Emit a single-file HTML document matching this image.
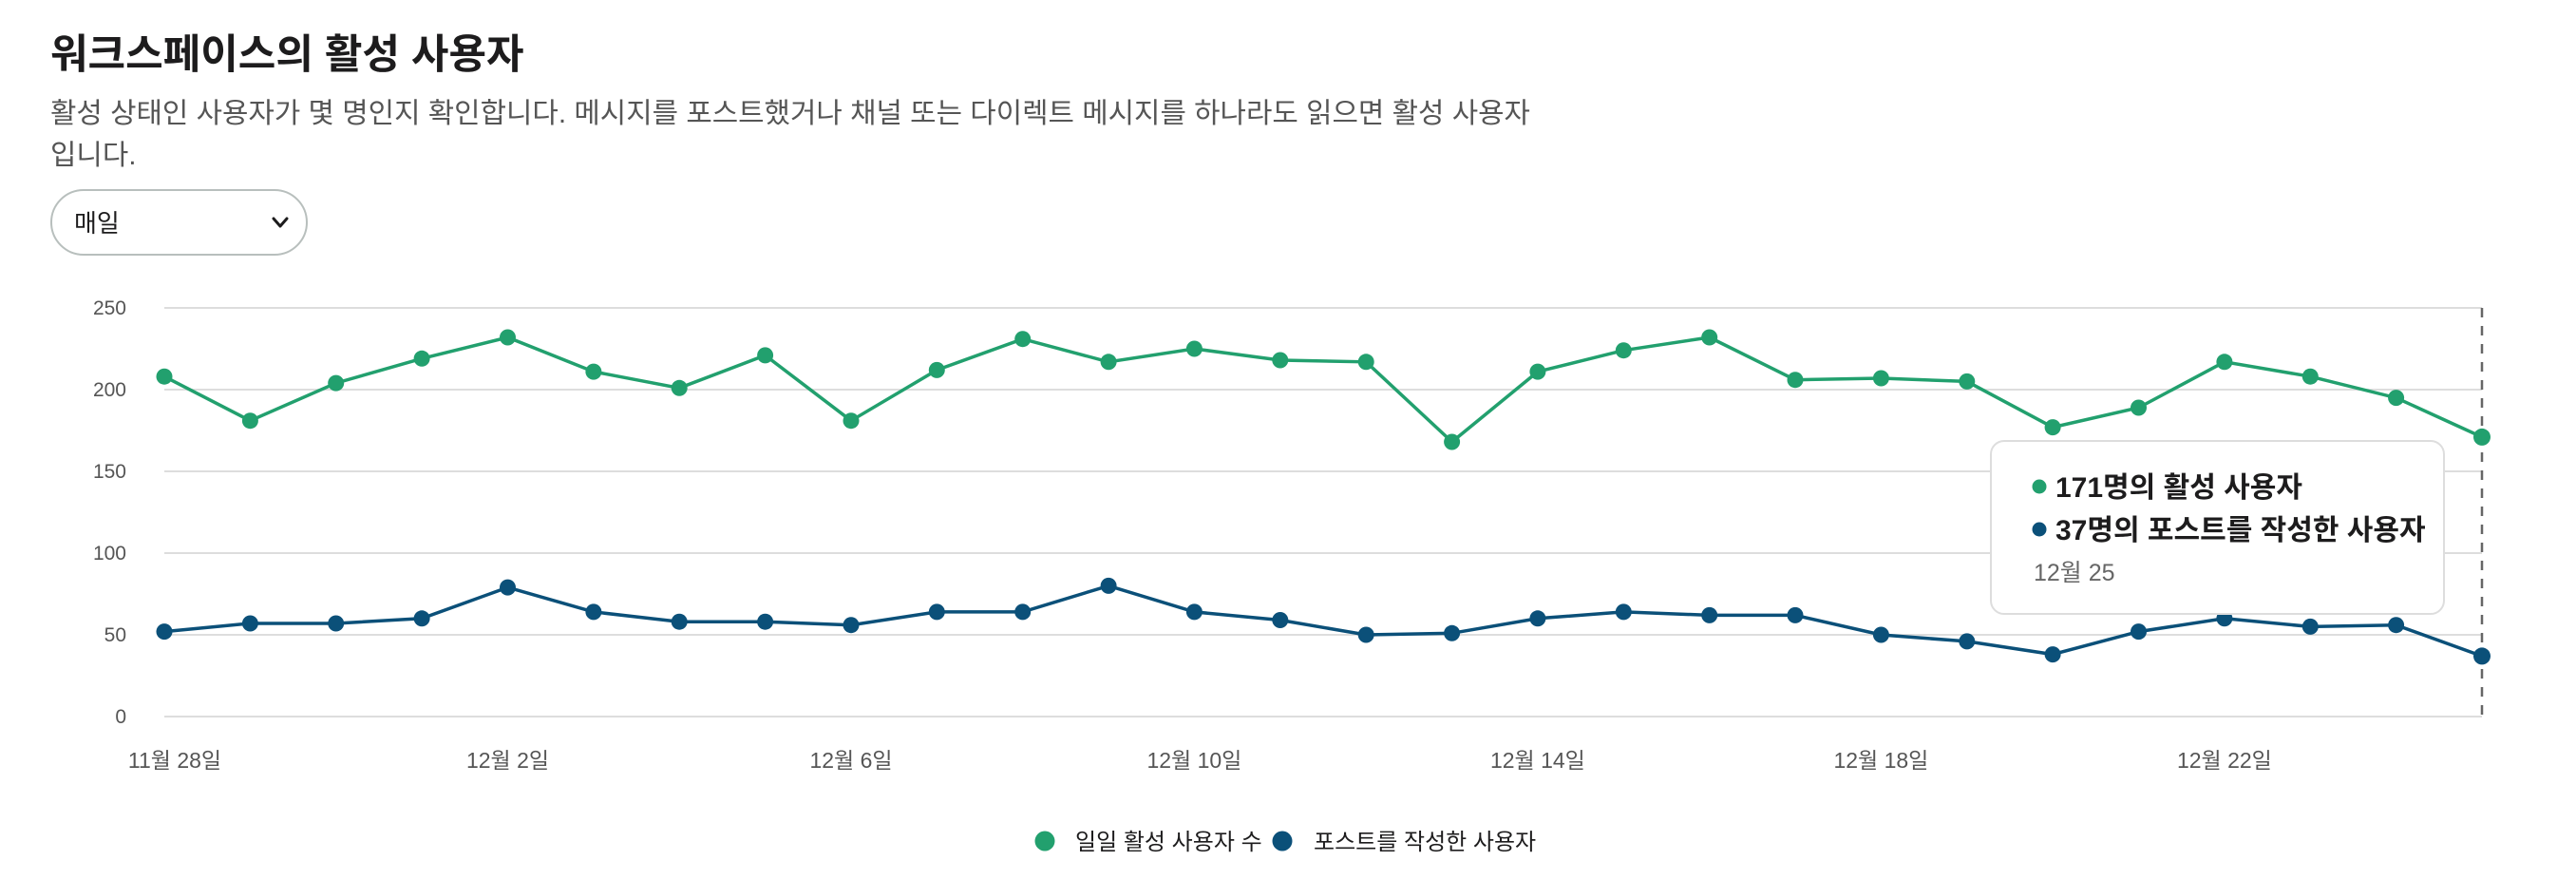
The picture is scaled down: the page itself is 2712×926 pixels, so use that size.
<!DOCTYPE html>
<html><head><meta charset="utf-8"><style>
body{margin:0;width:2712px;height:926px;background:#fff;overflow:hidden;font-family:"Liberation Sans","Noto Sans CJK KR",sans-serif;}
</style></head><body>
<svg width="2712" height="926" xmlns="http://www.w3.org/2000/svg" style="position:absolute;left:0;top:0;font-family:'Liberation Sans','Noto Sans CJK KR',sans-serif">
<text x="53" y="72" font-size="43" font-weight="bold" fill="#1d1c1d">워크스페이스의 활성 사용자</text>
<text x="53" y="129" font-size="29.8" fill="#555">활성 상태인 사용자가 몇 명인지 확인합니다. 메시지를 포스트했거나 채널 또는 다이렉트 메시지를 하나라도 읽으면 활성 사용자</text>
<text x="53" y="173" font-size="29.8" fill="#555">입니다.</text>
<rect x="54" y="200" width="269" height="68" rx="34" fill="#fff" stroke="#b8bfbd" stroke-width="2"/>
<text x="78" y="244" font-size="26" fill="#1d1c1d">매일</text>
<polyline points="288,230 295,238 302,230" fill="none" stroke="#1d1c1d" stroke-width="3" stroke-linecap="round" stroke-linejoin="round"/>
<g stroke="#dddddd" stroke-width="2">
<line x1="173" y1="324" x2="2613" y2="324"/><line x1="173" y1="410" x2="2613" y2="410"/><line x1="173" y1="496" x2="2613" y2="496"/><line x1="173" y1="582" x2="2613" y2="582"/><line x1="173" y1="668" x2="2613" y2="668"/><line x1="173" y1="754" x2="2613" y2="754"/>
</g>
<g font-size="21" fill="#555" text-anchor="end">
<text x="133" y="331">250</text><text x="133" y="417">200</text><text x="133" y="503">150</text><text x="133" y="589">100</text><text x="133" y="675">50</text><text x="133" y="761">0</text>
</g>
<g font-size="23" fill="#555" text-anchor="middle">
<text x="184" y="808">11월 28일</text><text x="534.5" y="808">12월 2일</text><text x="896" y="808">12월 6일</text><text x="1257.4" y="808">12월 10일</text><text x="1618.9" y="808">12월 14일</text><text x="1980.4" y="808">12월 18일</text><text x="2341.9" y="808">12월 22일</text>
</g>
<line x1="2613" y1="324" x2="2613" y2="754" stroke="#666" stroke-width="2.5" stroke-dasharray="10,9"/>
<polyline fill="none" stroke="#22a06e" stroke-width="3.5" points="173,396.2 263.4,442.7 353.7,403.1 444.1,377.3 534.5,355 624.9,391.1 715.2,408.3 805.6,373.9 896,442.7 986.3,389.4 1076.7,356.7 1167.1,380.8 1257.4,367 1347.8,379 1438.2,380.8 1528.6,465 1618.9,391.1 1709.3,368.7 1799.7,355 1890,399.7 1980.4,398 2070.8,401.4 2161.1,449.6 2251.5,429 2341.9,380.8 2432.3,396.2 2522.6,418.6 2613,459.9"/>
<g fill="#22a06e">
<circle cx="173" cy="396.2" r="8.5"/><circle cx="263.4" cy="442.7" r="8.5"/><circle cx="353.7" cy="403.1" r="8.5"/><circle cx="444.1" cy="377.3" r="8.5"/><circle cx="534.5" cy="355" r="8.5"/><circle cx="624.9" cy="391.1" r="8.5"/><circle cx="715.2" cy="408.3" r="8.5"/><circle cx="805.6" cy="373.9" r="8.5"/><circle cx="896" cy="442.7" r="8.5"/><circle cx="986.3" cy="389.4" r="8.5"/><circle cx="1076.7" cy="356.7" r="8.5"/><circle cx="1167.1" cy="380.8" r="8.5"/><circle cx="1257.4" cy="367" r="8.5"/><circle cx="1347.8" cy="379" r="8.5"/><circle cx="1438.2" cy="380.8" r="8.5"/><circle cx="1528.6" cy="465" r="8.5"/><circle cx="1618.9" cy="391.1" r="8.5"/><circle cx="1709.3" cy="368.7" r="8.5"/><circle cx="1799.7" cy="355" r="8.5"/><circle cx="1890" cy="399.7" r="8.5"/><circle cx="1980.4" cy="398" r="8.5"/><circle cx="2070.8" cy="401.4" r="8.5"/><circle cx="2161.1" cy="449.6" r="8.5"/><circle cx="2251.5" cy="429" r="8.5"/><circle cx="2341.9" cy="380.8" r="8.5"/><circle cx="2432.3" cy="396.2" r="8.5"/><circle cx="2522.6" cy="418.6" r="8.5"/><circle cx="2613" cy="459.9" r="9"/>
</g>
<polyline fill="none" stroke="#0b5079" stroke-width="3.5" points="173,664.6 263.4,656 353.7,656 444.1,650.8 534.5,618.1 624.9,643.9 715.2,654.2 805.6,654.2 896,657.7 986.3,643.9 1076.7,643.9 1167.1,616.4 1257.4,643.9 1347.8,652.5 1438.2,668 1528.6,666.3 1618.9,650.8 1709.3,643.9 1799.7,647.4 1890,647.4 1980.4,668 2070.8,674.9 2161.1,688.6 2251.5,664.6 2341.9,650.8 2432.3,659.4 2522.6,657.7 2613,690.4"/>
<g fill="#0b5079">
<circle cx="173" cy="664.6" r="8.5"/><circle cx="263.4" cy="656" r="8.5"/><circle cx="353.7" cy="656" r="8.5"/><circle cx="444.1" cy="650.8" r="8.5"/><circle cx="534.5" cy="618.1" r="8.5"/><circle cx="624.9" cy="643.9" r="8.5"/><circle cx="715.2" cy="654.2" r="8.5"/><circle cx="805.6" cy="654.2" r="8.5"/><circle cx="896" cy="657.7" r="8.5"/><circle cx="986.3" cy="643.9" r="8.5"/><circle cx="1076.7" cy="643.9" r="8.5"/><circle cx="1167.1" cy="616.4" r="8.5"/><circle cx="1257.4" cy="643.9" r="8.5"/><circle cx="1347.8" cy="652.5" r="8.5"/><circle cx="1438.2" cy="668" r="8.5"/><circle cx="1528.6" cy="666.3" r="8.5"/><circle cx="1618.9" cy="650.8" r="8.5"/><circle cx="1709.3" cy="643.9" r="8.5"/><circle cx="1799.7" cy="647.4" r="8.5"/><circle cx="1890" cy="647.4" r="8.5"/><circle cx="1980.4" cy="668" r="8.5"/><circle cx="2070.8" cy="674.9" r="8.5"/><circle cx="2161.1" cy="688.6" r="8.5"/><circle cx="2251.5" cy="664.6" r="8.5"/><circle cx="2341.9" cy="650.8" r="8.5"/><circle cx="2432.3" cy="659.4" r="8.5"/><circle cx="2522.6" cy="657.7" r="8.5"/><circle cx="2613" cy="690.4" r="9"/>
</g>
<rect x="2096" y="464" width="477" height="182" rx="14" fill="#fff" stroke="#dddddd" stroke-width="2"/>
<circle cx="2147" cy="512" r="7.5" fill="#22a06e"/>
<text x="2164" y="523" font-size="30" font-weight="bold" fill="#1d1c1d">171명의 활성 사용자</text>
<circle cx="2147" cy="557" r="7.5" fill="#0b5079"/>
<text x="2164" y="568" font-size="30" font-weight="bold" fill="#1d1c1d">37명의 포스트를 작성한 사용자</text>
<text x="2141" y="611" font-size="25" fill="#666">12월 25</text>
<circle cx="1100" cy="885" r="10.5" fill="#22a06e"/>
<text x="1132" y="894" font-size="24" fill="#1d1c1d">일일 활성 사용자 수</text>
<circle cx="1350" cy="885" r="10.5" fill="#0b5079"/>
<text x="1383" y="894" font-size="24" fill="#1d1c1d">포스트를 작성한 사용자</text>
</svg>
</body></html>
